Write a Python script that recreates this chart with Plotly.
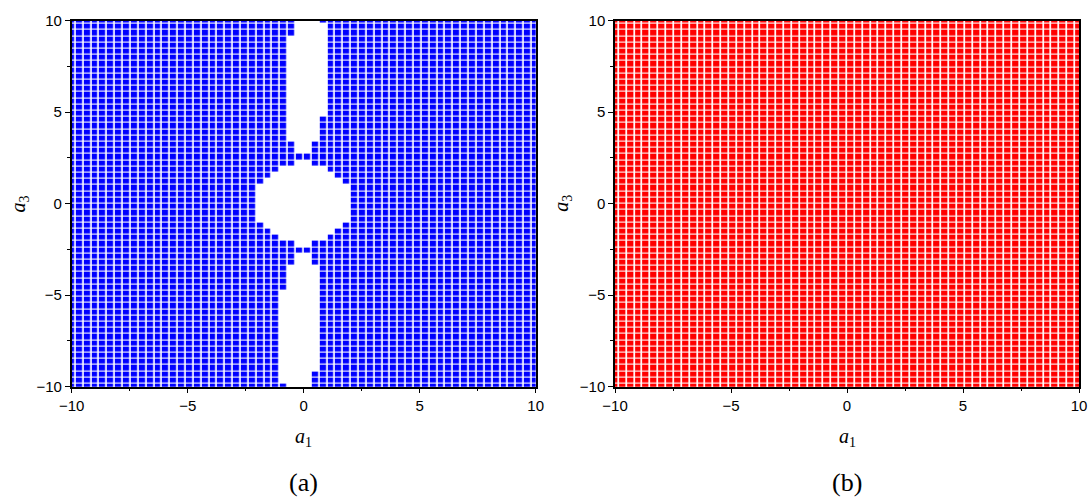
import numpy as np
import plotly.graph_objects as go

W, H = 1089, 497

# parameter grid (60 x 60 samples on [-10, 10])
a1 = np.linspace(-10, 10, 60)
a3 = np.linspace(-10, 10, 60)

# panel (a): columns (index into a1) that contain empty cells,
# and the inclusive row-index ranges (index into a3) that are empty in each
hole_cols = [24, 25, 26, 27, 28, 29, 30, 31, 32, 33, 34, 35]
hole_rows = [
    [(27, 32)],
    [(26, 33)],
    [(25, 34)],
    [(1, 15), (24, 35)],
    [(0, 19), (24, 35), (40, 56)],
    [(0, 21), (23, 36), (38, 59)],
    [(0, 21), (23, 36), (38, 59)],
    [(3, 19), (24, 35), (40, 59)],
    [(24, 35), (44, 58)],
    [(25, 34)],
    [(26, 33)],
    [(27, 32)],
]

tick_vals = [-10, -5, 0, 5, 10]
tick_text = ["\u221210", "\u22125", "0", "5", "10"]
panel_labels = ["(a)", "(b)"]
panel_colors = ["#0000ff", "#ff0000"]

z_a = np.ones((len(a3), len(a1)))
for col, ranges in zip(hole_cols, hole_rows):
    for s, e in ranges:
        z_a[s:e + 1, col] = np.nan
z_b = np.ones((len(a3), len(a1)))

# plot-area geometry in pixels
left_px = [71.7, 615.0]
right_px = [535.7, 1079.0]
top_px, bottom_px = 20.7, 386.7


def px_x(p):
    return p / W


def px_y(p):
    return 1 - p / H


fig = go.Figure()
for i, (z, col) in enumerate(zip([z_a, z_b], panel_colors)):
    fig.add_trace(go.Heatmap(
        x=a1, y=a3, z=z,
        colorscale=[[0, col], [1, col]],
        showscale=False, xgap=1.7, ygap=1.1,
        hoverinfo="skip",
        xaxis="x" if i == 0 else "x2",
        yaxis="y" if i == 0 else "y2",
    ))

tick_font = dict(family="Liberation Sans, Arial, sans-serif", size=15, color="black")
axis_common = dict(
    range=[-10, 10], tickmode="array", tickvals=tick_vals, ticktext=tick_text,
    ticks="outside", ticklen=5, tickwidth=1.2, tickcolor="black",
    minor=dict(ticks="outside", ticklen=3, tickwidth=1, tickcolor="black",
               tickvals=[-7.5, -2.5, 2.5, 7.5]),
    showline=True, linecolor="black", linewidth=1.5, mirror=True,
    showgrid=False, zeroline=False, tickfont=tick_font, automargin=False,
)

layout = dict(
    width=W, height=H,
    margin=dict(l=0, r=0, t=0, b=0),
    paper_bgcolor="white", plot_bgcolor="white",
    showlegend=False,
)
for i in range(2):
    sx = "" if i == 0 else "2"
    layout["xaxis" + sx] = dict(
        axis_common,
        domain=[px_x(left_px[i]), px_x(right_px[i])],
        anchor="y" + sx,
    )
    layout["yaxis" + sx] = dict(
        axis_common,
        domain=[px_y(bottom_px), px_y(top_px)],
        anchor="x" + sx,
    )
fig.update_layout(**layout)

serif = "Liberation Serif, Times New Roman, serif"
annotations = []
for i in range(2):
    cx = (left_px[i] + right_px[i]) / 2
    annotations.append(dict(
        text="<i>a</i><sub>1</sub>", x=px_x(cx), y=px_y(437),
        xref="paper", yref="paper", showarrow=False,
        font=dict(family=serif, size=20, color="black"),
        xanchor="center", yanchor="middle",
    ))
    annotations.append(dict(
        text="<i>a</i><sub>3</sub>", x=px_x(left_px[i] - 52), y=px_y((top_px + bottom_px) / 2),
        xref="paper", yref="paper", showarrow=False, textangle=-90,
        font=dict(family=serif, size=20, color="black"),
        xanchor="center", yanchor="middle",
    ))
    annotations.append(dict(
        text=panel_labels[i], x=px_x(cx), y=px_y(482),
        xref="paper", yref="paper", showarrow=False, borderpad=0,
        font=dict(family=serif, size=26, color="black"),
        xanchor="center", yanchor="middle",
    ))
fig.update_layout(annotations=annotations)

fig.write_html("out.html")
